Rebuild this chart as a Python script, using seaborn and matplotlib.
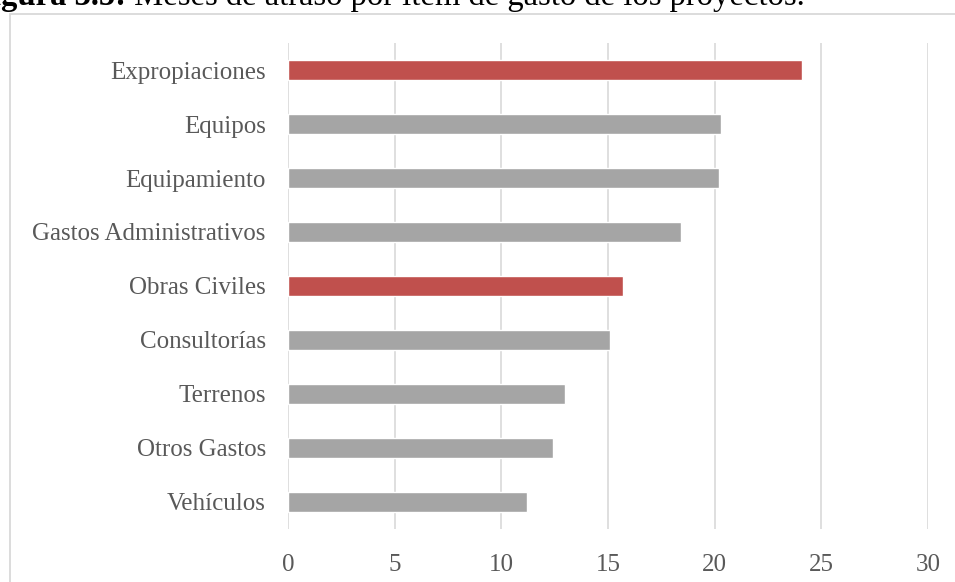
import matplotlib
matplotlib.use("Agg")
import matplotlib.pyplot as plt
import seaborn as sns
import pandas as pd
from matplotlib.patches import Rectangle

# Months of delay per expense item
items = ["Expropiaciones", "Equipos", "Equipamiento", "Gastos Administrativos",
         "Obras Civiles", "Consultorías", "Terrenos", "Otros Gastos", "Vehículos"]
months = [24.1, 20.3, 20.2, 18.4, 15.7, 15.1, 13.0, 12.4, 11.2]
highlight = ["si", "no", "no", "no", "si", "no", "no", "no", "no"]
x_ticks = [0, 5, 10, 15, 20, 25, 30]

title_bold = "Figura 3.5:"
title_rest = " Meses de atraso por ítem de gasto de los proyectos."

df = pd.DataFrame({"item": items, "meses": months, "destacado": highlight})

sns.set_theme(style="white")
plt.rcParams["font.family"] = ["Liberation Serif", "DejaVu Serif"]

W, H = 955, 582
fig = plt.figure(figsize=(W / 100, H / 100), dpi=100)
ax = fig.add_axes([288 / W, 1 - 529 / H, (928 - 288) / W, (529 - 43) / H])

sns.barplot(data=df, y="item", x="meses", hue="destacado", order=items,
            palette={"si": "#C0504D", "no": "#A5A5A5"}, dodge=False,
            width=0.38, orient="h", legend=False, ax=ax, saturation=1)

ax.set_xlim(0, 30)
ax.set_ylim(len(items) - 0.5, -0.5)
ax.set_xticks(x_ticks)
ax.set_xticklabels([str(t) for t in x_ticks])
ax.xaxis.grid(True, color="#D9D9D9", linewidth=1.2)
ax.yaxis.grid(False)
ax.set_axisbelow(True)
for s in ax.spines.values():
    s.set_visible(False)
ax.set_xlabel("")
ax.set_ylabel("")
ax.tick_params(axis="both", length=0, labelsize=18, labelcolor="#595959")
ax.tick_params(axis="y", pad=16)
ax.tick_params(axis="x", pad=18)

# Chart frame
fig.patches.append(Rectangle((10 / W, -0.1), 1.2, 1 - 14 / H + 0.1,
                             transform=fig.transFigure, fill=False,
                             edgecolor="#D9D9D9", linewidth=1.3))

# Caption above the frame
fig.text(126 / W, 1 - 5.5 / H, title_bold, ha="right", va="baseline",
         fontsize=23.5, fontweight="bold", color="black")
fig.text(126 / W, 1 - 5.5 / H, title_rest, ha="left", va="baseline",
         fontsize=23.5, color="black")

fig.savefig("out.png", dpi=100, facecolor="white")
